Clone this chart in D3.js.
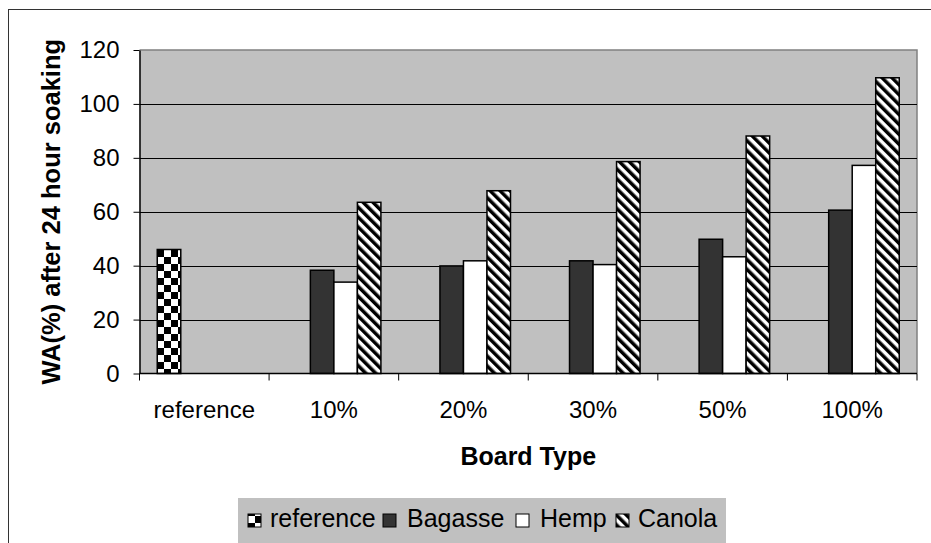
<!DOCTYPE html>
<html><head><meta charset="utf-8">
<script src="https://cdn.jsdelivr.net/npm/d3@7"></script>
<style>body{margin:0;background:#fff;}svg{display:block;font-family:"Liberation Sans",Arial,sans-serif;}</style>
</head><body>
<script>
const categories = ["reference","10%","20%","30%","50%","100%"];
const seriesNames = ["reference","Bagasse","Hemp","Canola"];
const referenceValues = [46, null, null, null, null, null];
const bagasseValues = [null, 38.3, 39.9, 41.8, 49.8, 60.6];
const hempValues = [null, 33.9, 41.8, 40.4, 43.3, 77.2];
const canolaValues = [null, 63.5, 67.8, 78.6, 88.1, 109.7];
const yTicks = [0,20,40,60,80,100,120];

const W = 931, H = 543;
const svg = d3.select("body").append("svg").attr("width", W).attr("height", H);
const defs = svg.append("defs");
const cs = 7;
const chk = defs.append("pattern").attr("id","chk").attr("patternUnits","userSpaceOnUse")
  .attr("x",157).attr("y",250)
  .attr("width",2*cs).attr("height",2*cs);
chk.append("rect").attr("width",2*cs).attr("height",2*cs).attr("fill","#fff");
chk.append("rect").attr("width",cs).attr("height",cs).attr("fill","#000");
chk.append("rect").attr("x",cs).attr("y",cs).attr("width",cs).attr("height",cs).attr("fill","#000");
const sp = 7;
const str = defs.append("pattern").attr("id","str").attr("patternUnits","userSpaceOnUse")
  .attr("width",sp).attr("height",10).attr("patternTransform","rotate(-45)");
str.append("rect").attr("width",sp).attr("height",10).attr("fill","#fff");
str.append("rect").attr("width",sp*0.5).attr("height",10).attr("fill","#000");

const fills = {"reference":"url(#chk)","Bagasse":"#333333","Hemp":"#ffffff","Canola":"url(#str)"};
const seriesData = {"reference":referenceValues,"Bagasse":bagasseValues,"Hemp":hempValues,"Canola":canolaValues};

// outer border
svg.append("rect").attr("x",8.5).attr("y",9.5).attr("width",940).attr("height",560)
  .attr("fill","none").attr("stroke","#333").attr("stroke-width",1);

const L = 139.5, R = 917, T = 50, B = 373.5;
const x = d3.scaleBand().domain(categories).range([L,R]).paddingInner(0).paddingOuter(0);
const x1 = d3.scaleBand().domain(seriesNames).range([0,x.bandwidth()]).paddingInner(0).paddingOuter(0.755);
const y = d3.scaleLinear().domain([0,120]).range([B,T]);

svg.append("rect").attr("x",L).attr("y",T).attr("width",R-L).attr("height",B-T).attr("fill","#c0c0c0");
svg.append("path").attr("d",`M${L},${T}H${R}V${B}`).attr("fill","none").attr("stroke","#808080").attr("stroke-width",1.5);

// gridlines
svg.append("g").selectAll("line").data(yTicks.filter(d=>d>0 && d<120)).join("line")
  .attr("x1",L).attr("x2",R).attr("y1",d=>Math.round(y(d))+0.5).attr("y2",d=>Math.round(y(d))+0.5)
  .attr("stroke","#000").attr("stroke-width",1);

// bars
const g = svg.append("g");
seriesNames.forEach(s=>{
  g.selectAll(null).data(categories.map((c,i)=>({c,v:seriesData[s][i]})).filter(d=>d.v!=null)).join("rect")
    .attr("x",d=>x(d.c)+x1(s)).attr("width",x1.bandwidth())
    .attr("y",d=>y(d.v)).attr("height",d=>B-y(d.v))
    .attr("fill",fills[s]).attr("stroke","#000").attr("stroke-width",1.5);
});

// y axis
const yAxis = d3.axisLeft(y).tickValues(yTicks).tickSize(6).tickPadding(14).tickSizeOuter(0);
const ya = svg.append("g").attr("transform",`translate(${L},0)`).call(yAxis);
ya.select(".domain").attr("stroke","#000").attr("stroke-width",1.5);
ya.selectAll(".tick line").attr("stroke","#000");
ya.selectAll("text").attr("font-size",24).attr("fill","#000").attr("font-family","Liberation Sans, Arial");

// x axis
const xa = svg.append("g").attr("transform",`translate(0,${B})`);
xa.append("line").attr("x1",L).attr("x2",R).attr("stroke","#000").attr("stroke-width",1.5);
const bounds = categories.map(c=>x(c)).concat([R]);
xa.selectAll("line.tk").data(bounds).join("line").attr("class","tk")
  .attr("x1",d=>d).attr("x2",d=>d).attr("y1",0).attr("y2",7).attr("stroke","#000");
xa.selectAll("text").data(categories).join("text")
  .attr("x",d=>x(d)+x.bandwidth()/2).attr("y",44.5).attr("text-anchor","middle")
  .attr("font-size",24).attr("fill","#000").text(d=>d);

// axis titles
svg.append("text").attr("transform",`translate(60,${(T+B)/2}) rotate(-90)`).attr("text-anchor","middle")
  .attr("font-size",25.5).attr("font-weight","bold").text("WA(%) after 24 hour soaking");
svg.append("text").attr("x",(L+R)/2).attr("y",465).attr("text-anchor","middle")
  .attr("font-size",25).attr("font-weight","bold").text("Board Type");

// legend
const lg = svg.append("g");
lg.append("rect").attr("x",238).attr("y",498).attr("width",488).attr("height",60).attr("fill","#c0c0c0");
const legX = [248, 383, 516, 616];
const legT = [270, 407, 540, 638];
seriesNames.forEach((s,i)=>{
  lg.append("rect").attr("x",legX[i]).attr("y",514).attr("width",13).attr("height",13)
    .attr("fill", fills[s]).attr("stroke","#000").attr("stroke-width",1);
  lg.append("text").attr("x",legT[i]).attr("y",527).attr("font-size",25).attr("fill","#000").text(s);
});
</script>
</body></html>
